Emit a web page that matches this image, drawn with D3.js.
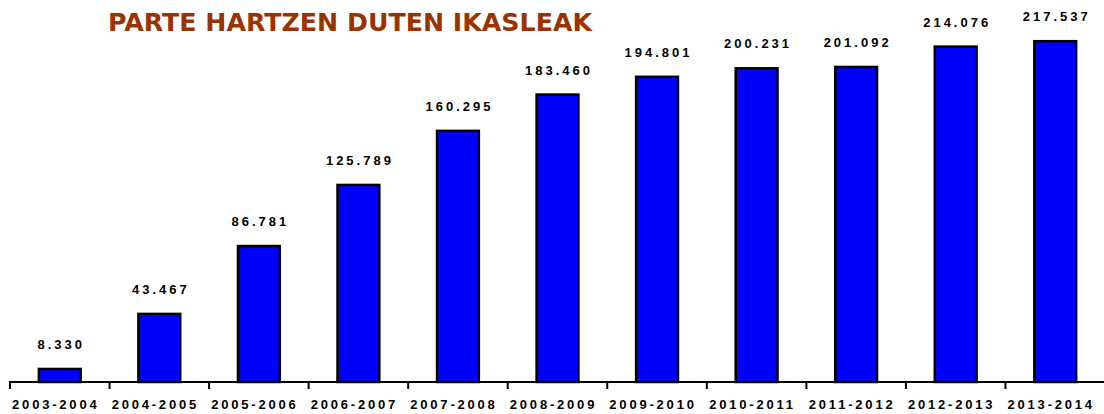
<!DOCTYPE html>
<html>
<head>
<meta charset="utf-8">
<script src="https://cdn.jsdelivr.net/npm/d3@7/dist/d3.min.js"></script>
<style>
  body { margin: 0; background: #fff; }
  svg { display: block; }
</style>
</head>
<body>
<svg id="chart" width="1104" height="414"></svg>
<script>
const seasons = ["2003-2004", "2004-2005", "2005-2006", "2006-2007", "2007-2008", "2008-2009",
    "2009-2010", "2010-2011", "2011-2012", "2012-2013", "2013-2014"];
const students = [8330, 43467, 86781, 125789, 160295, 183460, 194801, 200231, 201092, 214076, 217537];
const valueLabels = ["8.330", "43.467", "86.781", "125.789", "160.295", "183.460",
    "194.801", "200.231", "201.092", "214.076", "217.537"];
const title = "PARTE HARTZEN DUTEN IKASLEAK";

const data = seasons.map((s, i) => ({ season: s, value: students[i], label: valueLabels[i] }));

const svg = d3.select("#chart");

const x = d3.scaleBand().domain(seasons).range([10, 1105]).paddingInner(0.58).paddingOuter(0.29);
const y = d3.scaleLinear().domain([0, 240000]).range([382, 6]);

const gap = (x.step() - x.bandwidth()) / 2;

// title
svg.append("text")
    .attr("x", 108)
    .attr("y", 31)
    .attr("textLength", 484)
    .attr("lengthAdjust", "spacingAndGlyphs")
    .style("font-family", "'DejaVu Sans', sans-serif")
    .style("font-weight", "bold")
    .style("font-size", "25px")
    .style("fill", "#993300")
    .text(title);

// bars
svg.selectAll("rect.bar")
    .data(data)
    .enter()
    .append("rect")
    .attr("class", "bar")
    .attr("x", d => x(d.season))
    .attr("y", d => y(d.value))
    .attr("width", x.bandwidth())
    .attr("height", d => y(0) - y(d.value))
    .attr("fill", "#0000ff")
    .attr("stroke", "#000")
    .attr("stroke-width", 2.5);

// value labels
svg.selectAll("text.val")
    .data(data)
    .enter()
    .append("text")
    .attr("class", "val")
    .attr("x", d => x(d.season) + x.bandwidth() / 2 + 1.5)
    .attr("y", d => y(d.value) - 20)
    .attr("text-anchor", "middle")
    .style("font-family", "'Liberation Sans', Arial, sans-serif")
    .style("font-weight", "bold")
    .style("font-size", "13px")
    .style("letter-spacing", "3px")
    .text(d => d.label);

// axis line + ticks at category boundaries
svg.append("line")
    .attr("x1", 9).attr("x2", 1104)
    .attr("y1", y(0)).attr("y2", y(0))
    .attr("stroke", "#000").attr("stroke-width", 2);

const tickPos = seasons.map(s => x(s) - gap);
svg.selectAll("line.tick")
    .data(tickPos)
    .enter()
    .append("line")
    .attr("class", "tick")
    .attr("x1", d => d).attr("x2", d => d)
    .attr("y1", y(0)).attr("y2", y(0) + 7)
    .attr("stroke", "#000").attr("stroke-width", 2);

// category labels
svg.selectAll("text.cat")
    .data(seasons)
    .enter()
    .append("text")
    .attr("class", "cat")
    .attr("x", d => x(d) + x.bandwidth() / 2 - 4)
    .attr("y", 409)
    .attr("text-anchor", "middle")
    .style("font-family", "'Liberation Sans', Arial, sans-serif")
    .style("font-weight", "bold")
    .style("font-size", "13px")
    .style("letter-spacing", "2.8px")
    .text(d => d);
</script>
</body>
</html>
